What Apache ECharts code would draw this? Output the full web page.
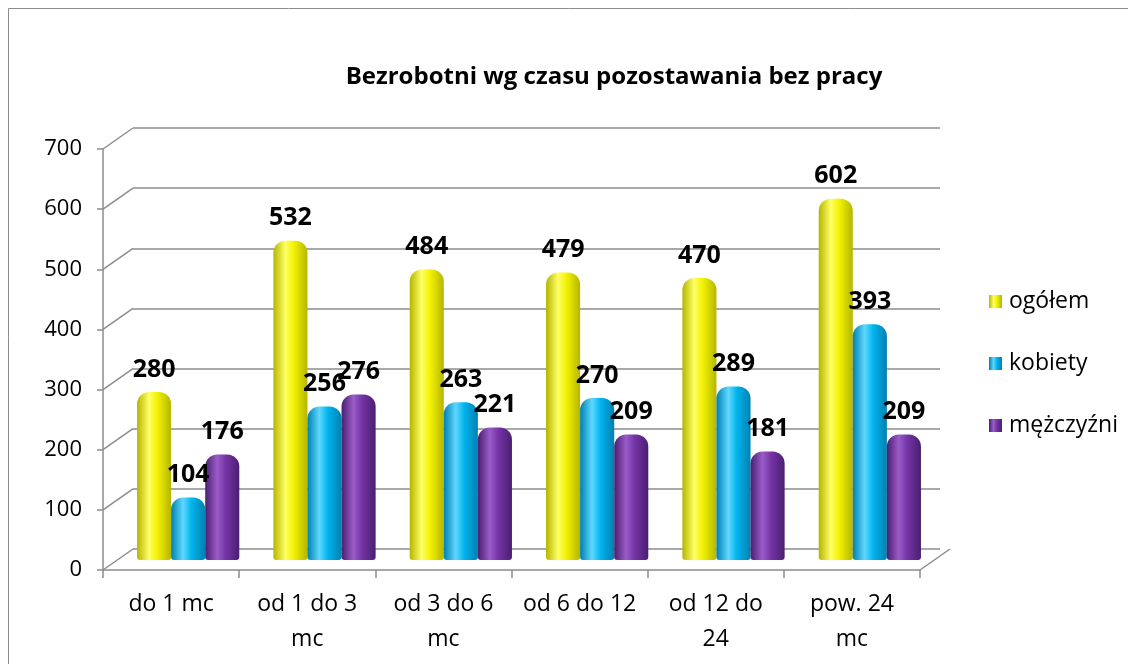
<!DOCTYPE html>
<html>
<head>
<meta charset="utf-8">
<script src="https://cdn.jsdelivr.net/npm/echarts@6/dist/echarts.min.js"></script>
<style>
html, body { margin: 0; padding: 0; background: #fff; }
#chart { width: 1128px; height: 664px; }
</style>
</head>
<body>
<div id="chart"></div>
<script>
var categories = ['do 1 mc', 'od 1 do 3\nmc', 'od 3 do 6\nmc', 'od 6 do 12', 'od 12 do\n24', 'pow. 24\nmc'];
var ogolem = [280, 532, 484, 479, 470, 602];
var kobiety = [104, 256, 263, 270, 289, 393];
var mezczyzni = [176, 276, 221, 209, 181, 209];
var yTicks = [0, 100, 200, 300, 400, 500, 600, 700];

var font = '"Open Sans", "Noto Sans", sans-serif';
var gridColor = '#8c8c8c';

function cyl(dark, mid, light) {
    return new echarts.graphic.LinearGradient(0, 0, 1, 0, [
        { offset: 0, color: dark },
        { offset: 0.35, color: light },
        { offset: 0.6, color: mid },
        { offset: 1, color: dark }
    ]);
}

function barSeries(name, data, dark, mid, light) {
    return {
        name: name,
        type: 'bar',
        xAxisIndex: 1,
        yAxisIndex: 1,
        data: data,
        barGap: '0%',
        barCategoryGap: '25%',
        itemStyle: {
            color: cyl(dark, mid, light),
            borderRadius: [12, 12, 3, 3]
        },
        label: {
            show: true,
            position: 'top',
            distance: 10,
            color: '#000',
            fontFamily: font,
            fontWeight: 'bold',
            fontSize: 25
        }
    };
}

var mychart = echarts.init(document.getElementById('chart'));
mychart.setOption({
    animation: false,
    color: ['#e6e600', '#00a8e0', '#7030a0'],
    title: {
        text: 'Bezrobotni wg czasu pozostawania bez pracy',
        left: 609,
        textAlign: 'center',
        top: 60,
        textStyle: { fontFamily: font, fontWeight: 'bold', fontSize: 24, color: '#000' }
    },
    legend: {
        orient: 'vertical',
        left: 984,
        top: 285,
        itemGap: 39,
        itemWidth: 13,
        itemHeight: 13,
        icon: 'rect',
        textStyle: { fontFamily: font, fontSize: 23, color: '#000', padding: [0, 0, 0, 2] },
        data: ['ogółem', 'kobiety', 'mężczyźni']
    },
    grid: [
        { left: 133, right: 188, top: 128, bottom: 115 },
        { left: 120, right: 190, top: 140, bottom: 104 },
        { left: 103, right: 208, top: 149, bottom: 94 }
    ],
    xAxis: [
        { gridIndex: 0, type: 'category', data: categories, show: false },
        { gridIndex: 1, type: 'category', data: categories, show: false },
        {
            gridIndex: 2,
            type: 'category',
            data: categories,
            axisLine: { lineStyle: { color: gridColor, width: 1.5 } },
            axisTick: { show: true, length: 8, lineStyle: { color: gridColor, width: 1.5 } },
            axisLabel: { color: '#000', fontFamily: font, fontSize: 23, lineHeight: 35, margin: 17, interval: 0 }
        }
    ],
    yAxis: [
        {
            gridIndex: 0, type: 'value', min: 0, max: 700, interval: 100,
            axisLine: { show: false }, axisTick: { show: false }, axisLabel: { show: false },
            splitLine: { lineStyle: { color: gridColor, width: 1.5 } }
        },
        {
            gridIndex: 1, type: 'value', min: 0, max: 700, interval: 100, show: false,
            splitLine: { show: false }
        },
        {
            gridIndex: 2, type: 'value', min: 0, max: 700, interval: 100,
            axisLine: { show: true, lineStyle: { color: gridColor, width: 1.5 } },
            axisTick: { show: true, length: 6, lineStyle: { color: gridColor, width: 1.5 } },
            axisLabel: { color: '#000', fontFamily: font, fontSize: 22, margin: 21 },
            splitLine: { show: false }
        }
    ],
    series: [
        barSeries('ogółem', ogolem, '#b5b500', '#f2f200', '#ffff66'),
        barSeries('kobiety', kobiety, '#0080b0', '#00b4ee', '#5fd8ff'),
        barSeries('mężczyźni', mezczyzni, '#4a1f70', '#7434a6', '#9a5cc8')
    ]
});

// perspective lines joining the front axis to the back wall
var fr = mychart.getModel().getComponent('grid', 2).coordinateSystem.getRect();
var br = mychart.getModel().getComponent('grid', 0).coordinateSystem.getRect();
var deco = [];
yTicks.forEach(function (v) {
    var f = mychart.convertToPixel({ gridIndex: 2 }, [0, v]);
    var b = mychart.convertToPixel({ gridIndex: 0 }, [0, v]);
    deco.push({
        type: 'line', silent: true, z: -1,
        shape: { x1: fr.x, y1: f[1], x2: br.x, y2: b[1] },
        style: { stroke: gridColor, lineWidth: 1.5 }
    });
});
deco.push({
    type: 'line', silent: true, z: -1,
    shape: { x1: fr.x + fr.width, y1: fr.y + fr.height, x2: br.x + br.width + 10, y2: br.y + br.height },
    style: { stroke: gridColor, lineWidth: 1.5 }
});
deco.push({
    type: 'rect', silent: true, z: -2,
    shape: { x: 8.5, y: 8.5, width: 1130, height: 670 },
    style: { fill: null, stroke: '#8c8c8c', lineWidth: 1 }
});
mychart.setOption({ graphic: deco });
</script>
</body>
</html>
